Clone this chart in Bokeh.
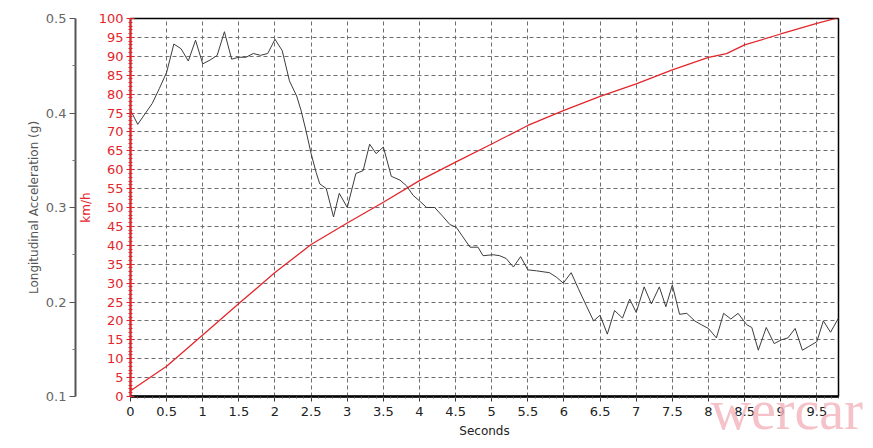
from bokeh.plotting import figure
from bokeh.models import Range1d, LinearAxis, FixedTicker, CustomJSTickFormatter, Title
from bokeh.embed import file_html
from bokeh.resources import INLINE

# ---- data ----
time_speed = [0, 0.5, 1.0, 1.5, 2.0, 2.5, 3.0, 3.5, 4.0, 4.5, 5.0, 5.5,
              6.0, 6.5, 7.0, 7.5, 8.0, 8.25, 8.5, 9.0, 9.5, 9.8]
speed_kmh = [1.5, 8.0, 16.3, 24.6, 32.8, 40.2, 45.9, 51.4, 57.1, 62.0, 66.8, 71.7,
             75.7, 79.4, 82.7, 86.4, 89.7, 90.7, 93.0, 95.9, 98.7, 100.2]

time_acc = [0.0, 0.1, 0.2, 0.3, 0.4, 0.5, 0.6, 0.7, 0.8, 0.9, 1.0, 1.1, 1.2, 1.3,
            1.4, 1.5, 1.6, 1.7, 1.8, 1.9, 2.0, 2.1, 2.2, 2.3, 2.36, 2.43, 2.5,
            2.57, 2.62, 2.71, 2.81, 2.89, 3.0, 3.12, 3.22, 3.31, 3.4, 3.5, 3.61,
            3.73, 3.82, 3.91, 4.0, 4.1, 4.21, 4.33, 4.42, 4.51, 4.6, 4.7, 4.81,
            4.88, 5.02, 5.11, 5.2, 5.3, 5.4, 5.5, 5.62, 5.8, 5.9, 5.99, 6.1, 6.2,
            6.31, 6.41, 6.5, 6.6, 6.7, 6.81, 6.91, 7.0, 7.11, 7.21, 7.32, 7.41,
            7.5, 7.6, 7.7, 7.81, 7.9, 8.0, 8.11, 8.21, 8.31, 8.41, 8.53, 8.6,
            8.69, 8.8, 8.91, 9.01, 9.1, 9.2, 9.3, 9.39, 9.5, 9.59, 9.69, 9.8]
acc_g = [0.403, 0.388, 0.399, 0.410, 0.426, 0.443, 0.473, 0.468, 0.455, 0.477,
         0.452, 0.456, 0.461, 0.486, 0.457, 0.459, 0.459, 0.463, 0.461, 0.463,
         0.478, 0.466, 0.434, 0.418, 0.403, 0.381, 0.357, 0.337, 0.325, 0.320,
         0.290, 0.315, 0.300, 0.336, 0.339, 0.367, 0.357, 0.364, 0.333, 0.329,
         0.323, 0.313, 0.307, 0.300, 0.300, 0.290, 0.282, 0.279, 0.269, 0.258,
         0.258, 0.249, 0.250, 0.249, 0.246, 0.237, 0.248, 0.234, 0.233, 0.231,
         0.226, 0.220, 0.231, 0.214, 0.196, 0.180, 0.186, 0.166, 0.191, 0.183,
         0.203, 0.189, 0.216, 0.198, 0.216, 0.195, 0.218, 0.187, 0.188, 0.180,
         0.176, 0.172, 0.162, 0.188, 0.182, 0.188, 0.176, 0.173, 0.149, 0.173,
         0.156, 0.160, 0.162, 0.172, 0.149, 0.153, 0.158, 0.180, 0.168, 0.183]

x_ticks = [0, 0.5, 1, 1.5, 2, 2.5, 3, 3.5, 4, 4.5, 5, 5.5, 6, 6.5, 7, 7.5, 8, 8.5, 9, 9.5]
kmh_ticks = [0, 5, 10, 15, 20, 25, 30, 35, 40, 45, 50, 55, 60, 65, 70, 75, 80, 85, 90, 95, 100]
g_ticks = [0.1, 0.2, 0.3, 0.4, 0.5]

RED = "#e3262b"
FONT = "DejaVu Sans"

p = figure(width=870, height=444, output_backend="svg", toolbar_location=None,
           x_range=Range1d(0, 9.8), y_range=Range1d(0, 100),
           min_border_left=130, min_border_right=32, min_border_top=18,
           min_border_bottom=48)
p.extra_y_ranges = {"g": Range1d(0.1, 0.5)}
p.background_fill_color = "white"
p.border_fill_color = "white"
p.outline_line_color = "black"
p.outline_line_width = 1.5

# grid
x_ticker = FixedTicker(ticks=x_ticks, minor_ticks=[i / 10 for i in range(0, 99)])
kmh_ticker = FixedTicker(ticks=kmh_ticks, minor_ticks=list(range(0, 101)))
for g in (p.xgrid, p.ygrid):
    g.grid_line_color = "#6e6e6e"
    g.grid_line_dash = "4 3"
    g.grid_line_width = 1
p.xgrid.ticker = x_ticker
p.ygrid.ticker = kmh_ticker

# x axis
xa = p.xaxis[0]
xa.ticker = x_ticker
xa.formatter = CustomJSTickFormatter(code="return String(tick);")
xa.axis_line_color = "black"
xa.axis_line_width = 2.5
xa.major_tick_line_color = "#333333"
xa.minor_tick_line_color = "#555555"
xa.major_tick_in = 0
xa.major_tick_out = 5
xa.minor_tick_in = 0
xa.minor_tick_out = 2
xa.major_label_text_font = FONT
xa.major_label_text_font_size = "13px"
xa.major_label_text_color = "#222222"
xa.major_label_standoff = 5
xa.axis_label = "Seconds"
xa.axis_label_text_font = FONT
xa.axis_label_text_font_size = "12px"
xa.axis_label_text_font_style = "normal"
xa.axis_label_text_color = "#222222"
xa.axis_label_standoff = 5

# km/h axis (closest to frame)
ya = p.yaxis[0]
ya.ticker = kmh_ticker
ya.axis_line_color = RED
ya.axis_line_width = 2
ya.major_tick_line_color = RED
ya.minor_tick_line_color = RED
ya.major_tick_in = 4
ya.major_tick_out = 4
ya.minor_tick_in = 2
ya.minor_tick_out = 2
ya.major_label_text_font = FONT
ya.major_label_text_font_size = "13px"
ya.major_label_text_color = RED
ya.major_label_standoff = 3
ya.axis_label = "km/h"
ya.axis_label_text_font = FONT
ya.axis_label_text_font_size = "12px"
ya.axis_label_text_font_style = "normal"
ya.axis_label_text_color = RED
ya.axis_label_standoff = 3

# g axis (outer left)
ga = LinearAxis(y_range_name="g",
                ticker=FixedTicker(ticks=g_ticks, minor_ticks=[0.15, 0.25, 0.35, 0.45]))
ga.axis_line_color = "#555555"
ga.axis_line_width = 2
ga.major_tick_line_color = "#555555"
ga.minor_tick_line_color = "#777777"
ga.major_tick_in = 0
ga.major_tick_out = 6
ga.minor_tick_in = 0
ga.minor_tick_out = 3
ga.major_label_text_font = FONT
ga.major_label_text_font_size = "13px"
ga.major_label_text_color = "#666666"
ga.major_label_standoff = 3
ga.axis_label = "Longitudinal Acceleration (g)"
ga.axis_label_text_font = FONT
ga.axis_label_text_font_size = "12px"
ga.axis_label_text_font_style = "normal"
ga.axis_label_text_color = "#555555"
ga.axis_label_standoff = 2
p.add_layout(ga, "left")

# data lines
p.line(time_speed, speed_kmh, line_color=RED, line_width=1.3)
p.line(time_acc, acc_g, y_range_name="g", line_color="#3c3c3c", line_width=1)

# watermark: a title in the bottom panel, pulled up over the axis band
wm = Title(text="wercar", align="left", offset=580, vertical_align="top",
           standoff=-124, text_font="Liberation Serif", text_font_size="56px",
           text_font_style="normal", text_color="#f2b3bb", text_alpha=0.8)
p.add_layout(wm, "below")

open("out.html", "w").write(file_html(p, INLINE))
